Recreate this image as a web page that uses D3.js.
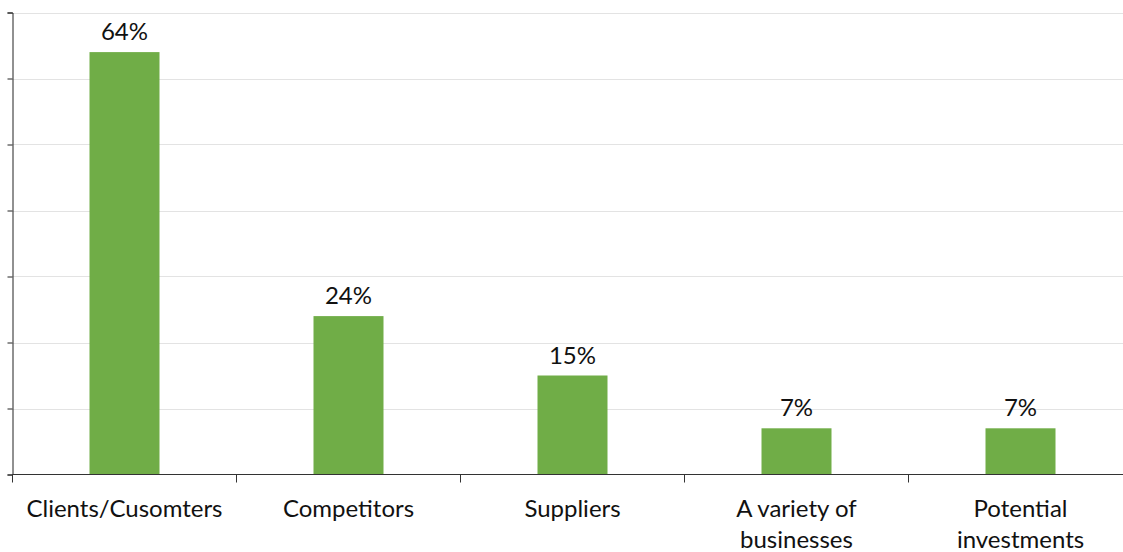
<!DOCTYPE html>
<html><head><meta charset="utf-8">
<script src="https://cdn.jsdelivr.net/npm/d3@7"></script>
<style>body{margin:0;background:#fff;}svg{display:block;}</style>
</head><body>
<svg id="c" width="1123" height="552"></svg>
<script>
(function(){
const categories = ["Clients/Cusomters", "Competitors", "Suppliers", "A variety of|businesses", "Potential|investments"];
const values = [64, 24, 15, 7, 7];
const yTicks = [0, 10, 20, 30, 40, 50, 60, 70];

const svg = d3.select("#c");
const mLeft = 12.5, mBottom = 474.5, mTop = 12.5, mRight = 1132.5;
const font = "Lato, 'Open Sans', sans-serif";

const x = d3.scaleBand().domain(categories).range([mLeft, mRight]).paddingInner(0.6875).paddingOuter(0.34375);
const y = d3.scaleLinear().domain([0, 70]).range([mBottom, mTop]);

// gridlines
svg.append("g").selectAll("line").data(yTicks.slice(1)).join("line")
  .attr("x1", mLeft).attr("x2", 1123).attr("y1", d => Math.round(y(d)) + 0.5).attr("y2", d => Math.round(y(d)) + 0.5)
  .attr("stroke", "#e3e3e3").attr("stroke-width", 1);

// bars
svg.append("g").selectAll("rect").data(values).join("rect")
  .attr("x", (d, i) => x(categories[i])).attr("width", x.bandwidth())
  .attr("y", d => y(d)).attr("height", d => mBottom - y(d))
  .attr("fill", "#70AD47");

// value labels
svg.append("g").selectAll("text").data(values).join("text")
  .attr("x", (d, i) => x(categories[i]) + x.bandwidth() / 2)
  .attr("y", d => y(d) - 12)
  .attr("text-anchor", "middle").attr("font-family", font).attr("font-size", 24).attr("fill", "#111")
  .text(d => d + "%");

// y axis
const yAxis = d3.axisLeft(y).tickValues(yTicks).tickSize(5).tickFormat("");
const yg = svg.append("g").attr("transform", `translate(${mLeft},0)`).call(yAxis);
yg.select(".domain").attr("stroke", "#222");
yg.selectAll(".tick line").attr("stroke", "#222");

// x axis
const bounds = d3.range(categories.length).map(i => mLeft + i * x.step());
const xg = svg.append("g");
xg.append("line").attr("x1", mLeft).attr("x2", mRight).attr("y1", mBottom).attr("y2", mBottom).attr("stroke", "#333");
xg.selectAll("line.t").data(bounds).join("line").attr("class", "t")
  .attr("x1", d => Math.round(d) - 0.5).attr("x2", d => Math.round(d) - 0.5)
  .attr("y1", mBottom).attr("y2", mBottom + 8).attr("stroke", "#333");

// category labels
const lab = svg.append("g").selectAll("text").data(categories).join("text")
  .attr("x", d => x(d) + x.bandwidth() / 2).attr("y", 517)
  .attr("text-anchor", "middle").attr("font-family", font).attr("font-size", 24).attr("fill", "#111");
lab.each(function(d) {
  const parts = d.split("|");
  const t = d3.select(this);
  parts.forEach((p, i) => t.append("tspan").attr("x", t.attr("x")).attr("dy", i === 0 ? 0 : 31).text(p));
});
})();
</script>
</body></html>
